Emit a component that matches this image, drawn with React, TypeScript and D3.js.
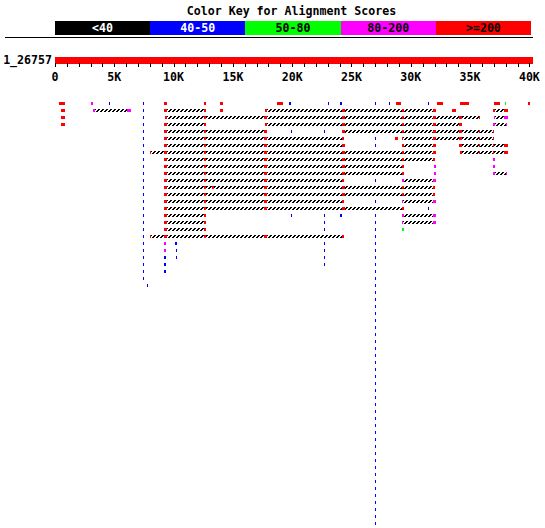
import React from 'react';
import * as d3 from 'd3';

// alignment overview, positions in kb along the query
type Hsp = [number, number, string];
type Hit = Hsp[];

const queryName = '1_26757';
const queryLengthK = 40.27;
const tickLabels = ['0', '5K', '10K', '15K', '20K', '25K', '30K', '35K', '40K'];
const tickValues = [0, 5, 10, 15, 20, 25, 30, 35, 40];
const keyLabels = ['<40', '40-50', '50-80', '80-200', '>=200'];
const keyColors = ['#000000', '#0000ff', '#00ff00', '#ff00ff', '#ff0000'];
const keyTextColors = ['#ffffff', '#ffffff', '#000000', '#000000', '#000000'];
const scoreColor: Record<string, string> = { k: '#000000', b: '#0000ff', g: '#00ff00', m: '#ff00ff', r: '#ff0000' };

const hitRows: Hit[][] = [
  [[[0.34, 0.84, 'r']], [[3.04, 3.2, 'm']], [[4.55, 4.63, 'b']], [[7.41, 7.49, 'b']], [[9.19, 9.44, 'r']], [[12.56, 12.73, 'r']], [[13.91, 14.16, 'r']], [[18.71, 19.22, 'r']], [[19.73, 19.9, 'b']], [[23.06, 23.14, 'b']], [[24.03, 24.19, 'b']], [[27.02, 27.1, 'b']], [[28.12, 28.2, 'b']], [[28.75, 29.17, 'r']], [[31.49, 31.57, 'b']], [[32.2, 32.71, 'r']], [[34.14, 34.9, 'r']], [[37.01, 37.51, 'r']], [[37.98, 38.06, 'g']], [[39.87, 40.04, 'r']]],
  [[[0.51, 0.84, 'r']], [[3.2, 3.37, 'm'], [6.07, 6.41, 'm']], [[7.41, 7.49, 'b']], [[9.19, 9.44, 'r'], [12.56, 12.73, 'r']], [[13.91, 14.16, 'r']], [[17.7, 17.87, 'r'], [24.19, 24.45, 'r'], [29.25, 29.42, 'r'], [31.87, 32.12, 'r']], [[33.47, 33.8, 'r']], [[36.92, 37.09, 'r'], [37.85, 38.19, 'r']]],
  [[[0.51, 0.84, 'r']], [[7.41, 7.49, 'b']], [[9.27, 9.44, 'r'], [12.56, 12.73, 'r'], [17.62, 17.87, 'r'], [24.19, 24.45, 'r'], [29.25, 29.42, 'r'], [31.87, 32.12, 'r'], [34.06, 34.31, 'r'], [35.74, 35.83, 'r']], [[37.01, 37.09, 'm'], [37.85, 38.19, 'm']]],
  [[[0.51, 0.84, 'r']], [[7.41, 7.49, 'b']], [[9.19, 9.44, 'r'], [12.56, 12.73, 'r']], [[17.7, 17.87, 'r'], [24.19, 24.45, 'r'], [29.25, 29.42, 'r'], [31.87, 32.12, 'r'], [34.06, 34.31, 'r']], [[36.92, 37.09, 'm'], [38.02, 38.1, 'm']]],
  [[[7.41, 7.49, 'b']], [[9.19, 9.44, 'r'], [12.56, 12.73, 'r'], [17.62, 17.87, 'r']], [[19.86, 19.94, 'b']], [[22.72, 22.8, 'b']], [[24.19, 24.45, 'r'], [29.25, 29.42, 'r'], [31.87, 32.12, 'r'], [34.06, 34.31, 'r'], [35.74, 35.83, 'r'], [36.92, 37.01, 'r']]],
  [[[7.41, 7.49, 'b']], [[9.19, 9.44, 'r'], [12.56, 12.73, 'r'], [17.62, 17.87, 'r'], [24.19, 24.36, 'r']], [[27.02, 27.1, 'b']], [[28.66, 28.91, 'r']], [[29.3, 29.38, 'r'], [31.87, 32.12, 'r'], [34.06, 34.31, 'r'], [35.74, 35.83, 'r'], [36.92, 37.01, 'r']]],
  [[[7.41, 7.49, 'b']], [[9.19, 9.44, 'r'], [12.56, 12.73, 'r'], [17.62, 17.87, 'r'], [24.19, 24.45, 'r']], [[27.02, 27.1, 'b']], [[29.25, 29.42, 'r'], [31.87, 32.12, 'r']], [[34.06, 34.31, 'r'], [35.74, 35.83, 'r'], [36.92, 37.01, 'r'], [37.85, 38.19, 'r']]],
  [[[7.41, 7.49, 'b']], [[8.05, 8.13, 'r'], [9.19, 9.44, 'r'], [12.56, 12.73, 'r'], [17.62, 17.87, 'r'], [24.19, 24.45, 'r'], [29.25, 29.42, 'r'], [31.87, 32.12, 'r']], [[34.14, 34.31, 'r'], [35.74, 35.83, 'r'], [36.92, 37.01, 'r'], [37.85, 38.19, 'r']]],
  [[[7.41, 7.49, 'b']], [[9.19, 9.44, 'r'], [12.56, 12.73, 'r'], [17.62, 17.87, 'r'], [24.19, 24.45, 'r'], [29.25, 29.42, 'r'], [31.87, 32.03, 'r']], [[36.92, 37.09, 'm']]],
  [[[7.41, 7.49, 'b']], [[9.19, 9.44, 'r'], [12.56, 12.73, 'r'], [17.62, 17.87, 'r'], [24.19, 24.45, 'r'], [29.25, 29.42, 'r']], [[31.95, 32.12, 'm']], [[36.92, 37.09, 'm']]],
  [[[7.41, 7.49, 'b']], [[9.19, 9.44, 'r'], [12.56, 12.73, 'r'], [17.62, 17.87, 'r'], [24.19, 24.45, 'r'], [29.25, 29.42, 'r']], [[31.95, 32.12, 'm']], [[36.92, 37.09, 'm'], [38.02, 38.1, 'm']]],
  [[[7.41, 7.49, 'b']], [[9.19, 9.44, 'r'], [12.56, 12.73, 'r'], [17.62, 17.87, 'r'], [24.19, 24.36, 'r']], [[27.02, 27.1, 'b']], [[29.25, 29.42, 'm'], [31.87, 32.12, 'm']]],
  [[[7.41, 7.49, 'b']], [[9.19, 9.44, 'r'], [12.56, 12.73, 'r'], [13.24, 13.41, 'r'], [17.62, 17.87, 'r'], [24.19, 24.45, 'r'], [29.25, 29.42, 'r'], [31.87, 32.03, 'r']]],
  [[[7.41, 7.49, 'b']], [[9.19, 9.44, 'r'], [12.56, 12.73, 'r'], [17.62, 17.87, 'r'], [24.19, 24.45, 'r'], [29.25, 29.42, 'r'], [31.87, 32.03, 'r']]],
  [[[7.41, 7.49, 'b']], [[9.19, 9.44, 'r'], [12.56, 12.73, 'r'], [17.62, 17.87, 'r'], [24.19, 24.36, 'r']], [[27.02, 27.1, 'b']], [[29.3, 29.38, 'm'], [31.87, 32.12, 'm']]],
  [[[7.41, 7.49, 'b']], [[9.19, 9.44, 'r'], [12.56, 12.73, 'r'], [17.62, 17.87, 'r'], [24.19, 24.45, 'r'], [29.25, 29.42, 'r']], [[31.49, 31.57, 'b']]],
  [[[7.41, 7.49, 'b']], [[9.19, 9.44, 'r'], [12.56, 12.73, 'r']], [[19.94, 20.02, 'b']], [[22.72, 22.8, 'b']], [[24.03, 24.19, 'b']], [[27.02, 27.1, 'b']], [[29.25, 29.42, 'm'], [31.87, 32.12, 'm']]],
  [[[7.41, 7.49, 'b']], [[9.19, 9.44, 'r'], [12.56, 12.73, 'r']], [[22.72, 22.8, 'b']], [[27.02, 27.1, 'b']], [[29.3, 29.38, 'm'], [31.87, 32.12, 'm']]],
  [[[7.41, 7.49, 'b']], [[9.19, 9.44, 'r'], [12.56, 12.73, 'r']], [[22.72, 22.8, 'b']], [[27.02, 27.1, 'b']], [[29.25, 29.42, 'g']]],
  [[[7.41, 7.49, 'b']], [[8.05, 8.13, 'r'], [9.19, 9.44, 'r'], [12.56, 12.73, 'r'], [17.62, 17.87, 'r'], [24.19, 24.36, 'r']], [[27.02, 27.1, 'b']]],
  [[[7.41, 7.49, 'b']], [[9.19, 9.36, 'm']], [[10.12, 10.28, 'b']], [[22.72, 22.8, 'b']], [[27.02, 27.1, 'b']]],
  [[[7.41, 7.49, 'b']], [[9.19, 9.36, 'm']], [[10.24, 10.32, 'b']], [[22.72, 22.8, 'b']], [[27.02, 27.1, 'b']]],
  [[[7.41, 7.49, 'b']], [[9.19, 9.36, 'b']], [[10.24, 10.32, 'b']], [[22.72, 22.8, 'b']], [[27.02, 27.1, 'b']]],
  [[[7.41, 7.49, 'b']], [[9.19, 9.36, 'b']], [[22.72, 22.8, 'b']], [[27.02, 27.1, 'b']]],
  [[[7.41, 7.49, 'b']], [[9.19, 9.36, 'b']], [[27.02, 27.1, 'b']]],
  [[[7.41, 7.49, 'b']], [[27.02, 27.1, 'b']]],
  [[[7.74, 7.82, 'b']], [[27.02, 27.1, 'b']]],
  // weak hit at ~27.06 kb repeated down the rest of the list
  [[[27.02, 27.1, 'b']]], [[[27.02, 27.1, 'b']]], [[[27.02, 27.1, 'b']]], [[[27.02, 27.1, 'b']]], [[[27.02, 27.1, 'b']]],
  [[[27.02, 27.1, 'b']]], [[[27.02, 27.1, 'b']]], [[[27.02, 27.1, 'b']]], [[[27.02, 27.1, 'b']]], [[[27.02, 27.1, 'b']]],
  [[[27.02, 27.1, 'b']]], [[[27.02, 27.1, 'b']]], [[[27.02, 27.1, 'b']]], [[[27.02, 27.1, 'b']]], [[[27.02, 27.1, 'b']]],
  [[[27.02, 27.1, 'b']]], [[[27.02, 27.1, 'b']]], [[[27.02, 27.1, 'b']]], [[[27.02, 27.1, 'b']]], [[[27.02, 27.1, 'b']]],
  [[[27.02, 27.1, 'b']]], [[[27.02, 27.1, 'b']]], [[[27.02, 27.1, 'b']]], [[[27.02, 27.1, 'b']]], [[[27.02, 27.1, 'b']]],
  [[[27.02, 27.1, 'b']]], [[[27.02, 27.1, 'b']]], [[[27.02, 27.1, 'b']]], [[[27.02, 27.1, 'b']]], [[[27.02, 27.1, 'b']]],
  [[[27.02, 27.1, 'b']]], [[[27.02, 27.1, 'b']]], [[[27.02, 27.1, 'b']]], [[[27.02, 27.1, 'b']]],
];

const font = '"DejaVu Sans Mono", monospace';

export default function App() {
  const x = d3.scaleLinear().domain([0, queryLengthK]).range([55, 532.6]);
  const key = d3.scaleBand().domain(keyLabels).range([55, 531]);
  const rowY = d3.scaleLinear().domain([0, 1]).range([102, 109]);
  const minorTicks = d3.range(0, 41, 1);
  const px = (v: number) => Math.round(x(v));

  return (
    <svg width={545} height={528} style={{ position: 'absolute', left: 0, top: 0, background: '#fff' }} fontFamily={font}>
      <defs>
        <pattern id="hatch" width={4} height={7} patternUnits="userSpaceOnUse">
          <rect x={0} y={6} width={2} height={1} fill="#000" />
          <rect x={1} y={5} width={2} height={1} fill="#000" />
          <rect x={2} y={4} width={2} height={1} fill="#000" />
        </pattern>
      </defs>
      <text x={291.5} y={15} textAnchor="middle" fontSize={11.6} fontWeight="bold">Color Key for Alignment Scores</text>
      {keyLabels.map((k, i) => (
        <g key={k}>
          <rect x={key(k)} y={21} width={key.bandwidth()} height={14} fill={keyColors[i]} shapeRendering="crispEdges" />
          <text x={key(k)! + key.bandwidth() / 2} y={32} textAnchor="middle" fontSize={11.6} fontWeight="bold" fill={keyTextColors[i]}>{k}</text>
        </g>
      ))}
      <line x1={5} x2={533} y1={37.5} y2={37.5} stroke="#000" strokeWidth={1} />
      <text x={52} y={64} textAnchor="end" fontSize={11.6} fontWeight="bold">{queryName}</text>
      <rect x={x(0)} y={57} width={x(queryLengthK) - x(0)} height={6.5} fill="#ff0000" shapeRendering="crispEdges" />
      {minorTicks.map(t => (
        <line key={t} x1={px(t) + 0.5} x2={px(t) + 0.5} y1={63} y2={67} stroke="#000" strokeWidth={1} />
      ))}
      {tickValues.map((t, i) => (
        <text key={t} x={x(t)} y={81} textAnchor="middle" fontSize={11.6} fontWeight="bold">{tickLabels[i]}</text>
      ))}
      <g shapeRendering="crispEdges">
        {hitRows.map((row, ri) => {
          const y = rowY(ri);
          return (
            <g key={ri}>
              {row.map((hit, hi) => {
                const s = px(d3.min(hit, h => h[0])!);
                const e = px(d3.max(hit, h => h[1])!);
                return (
                  <g key={hi}>
                    {hit.length > 1 && <rect x={s} y={y} width={e - s} height={3} fill="url(#hatch)" />}
                    {hit.map((h, j) => (
                      <rect key={j} x={px(h[0])} y={y} width={Math.max(1, px(h[1]) - px(h[0]))} height={3} fill={scoreColor[h[2]]} />
                    ))}
                  </g>
                );
              })}
            </g>
          );
        })}
      </g>
    </svg>
  );
}
